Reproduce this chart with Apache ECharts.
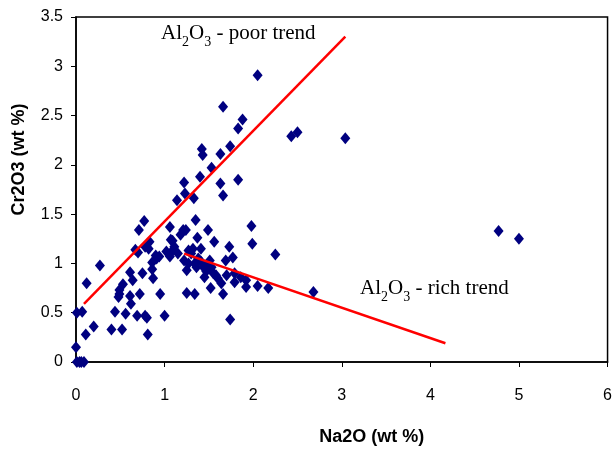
<!DOCTYPE html>
<html>
<head>
<meta charset="utf-8">
<script src="https://cdn.jsdelivr.net/npm/echarts@6/dist/echarts.min.js"></script>
<style>
  html, body { margin: 0; padding: 0; background: #fff; }
  #chart { width: 615px; height: 451px; }
</style>
</head>
<body>
<div id="chart"></div>
<script>
// Na2O (x) and Cr2O3 (y) values, wt %
const na2o = [
  2.05, 1.66, 1.88, 1.83, 2.43, 2.50, 3.04, 1.74, 1.42, 1.43, 1.63, 1.53, 1.40, 1.83, 1.63, 1.66,
  1.22, 1.23, 1.33, 1.14, 1.35, 1.98, 0.77, 0.71, 1.06, 1.21, 1.24, 1.49, 1.18, 1.37, 1.56, 1.07,
  1.09, 1.99, 0.83, 0.78, 0.82, 0.67, 0.70, 1.11, 1.27, 1.32, 1.41, 1.73, 2.25, 1.77, 1.69, 0.94,
  0.91, 1.06, 1.09, 0.27, 0.86, 1.22, 1.27, 1.36, 1.41, 1.44, 1.51, 1.53, 1.25, 1.34, 1.45, 1.55,
  1.60, 1.64, 0.86, 0.61, 0.75, 0.87, 0.64, 1.79, 1.79, 1.86, 1.92, 1.92, 2.05, 2.17, 2.68, 1.52,
  1.66, 1.25, 1.34, 0.12, 0.53, 0.49, 0.48, 0.49, 0.72, 0.95, 0.61, 0.62, 0.44, 0.56, 0.69, 0.78,
  0.80, 1.00, 1.74, 0.01, 0.07, 0.20, 0.40, 0.52, 0.11, 0.81, 0.00, 0.01, 0.06, 0.09, 0.04, 4.77,
  5.00, 1.30, 1.15, 0.90, 1.02, 1.48, 1.58, 1.70, 1.38, 1.47
];
const cr2o3 = [
  2.91, 2.59, 2.46, 2.37, 2.29, 2.33, 2.27, 2.19, 2.16, 2.10, 2.11, 1.97, 1.88, 1.85, 1.81, 1.69,
  1.82, 1.71, 1.66, 1.64, 1.44, 1.38, 1.43, 1.34, 1.37, 1.34, 1.34, 1.34, 1.29, 1.26, 1.22, 1.24,
  1.23, 1.20, 1.22, 1.17, 1.15, 1.14, 1.11, 1.17, 1.13, 1.15, 1.15, 1.17, 1.09, 1.06, 1.03, 1.07,
  1.05, 1.07, 1.13, 0.98, 1.01, 1.03, 1.00, 0.96, 1.02, 0.96, 1.03, 0.96, 0.93, 1.00, 0.86, 0.90,
  0.85, 0.80, 0.94, 0.91, 0.90, 0.85, 0.83, 0.90, 0.81, 0.86, 0.83, 0.76, 0.77, 0.75, 0.71, 0.75,
  0.69, 0.70, 0.69, 0.80, 0.79, 0.73, 0.66, 0.69, 0.69, 0.69, 0.67, 0.59, 0.51, 0.49, 0.47, 0.47,
  0.45, 0.47, 0.43, 0.50, 0.51, 0.36, 0.33, 0.33, 0.28, 0.28, 0.15, 0.00, 0.00, 0.00, 0.00, 1.33,
  1.25, 1.10, 1.10, 1.08, 1.12, 0.98, 0.88, 0.88, 1.05, 0.92
];

// trend lines: [x, y] end points
const poorTrend = [[0.09, 0.59], [3.04, 3.30]];
const richTrend = [[1.22, 1.10], [4.17, 0.19]];

const xTicks = { min: 0, max: 6, interval: 1 };
const yTicks = { min: 0, max: 3.5, interval: 0.5 };

const points = na2o.map((x, i) => [x, cr2o3[i]]);

const chart = echarts.init(document.getElementById('chart'));

const serif = '"Liberation Serif", "Times New Roman", serif';
const sans = '"Liberation Sans", Arial, sans-serif';
const trendLabel = (name) => ({
  text: '{n|Al}{s|2}{n|O}{s|3}{n| - ' + name + ' trend}',
  rich: {
    n: { fontFamily: serif, fontSize: 21, fill: '#000', verticalAlign: 'bottom', lineHeight: 26 },
    s: { fontFamily: serif, fontSize: 14, fill: '#000', verticalAlign: 'bottom', lineHeight: 19, padding: [0, 0, -5, 0] },
  },
});

chart.setOption({
  backgroundColor: '#fff',
  animation: false,
  grid: {
    left: 76,
    right: 6,
    top: 17,
    bottom: 88,
    show: true,
    borderColor: '#000',
    borderWidth: 1.5,
    backgroundColor: 'transparent',
  },
  xAxis: {
    type: 'value',
    min: xTicks.min,
    max: xTicks.max,
    interval: xTicks.interval,
    name: 'Na2O (wt %)',
    nameLocation: 'middle',
    nameGap: 66,
    nameTextStyle: {
      fontFamily: sans,
      fontSize: 18,
      fontWeight: 'bold',
      color: '#000',
      padding: [0, 0, 0, 60],
    },
    axisLine: { lineStyle: { color: '#000', width: 1.5 } },
    axisTick: { inside: false, length: 5, lineStyle: { color: '#000' } },
    axisLabel: { margin: 26, fontFamily: sans, fontSize: 16, color: '#000' },
    splitLine: { show: false },
  },
  yAxis: {
    type: 'value',
    min: yTicks.min,
    max: yTicks.max,
    interval: yTicks.interval,
    name: 'Cr2O3 (wt %)',
    nameLocation: 'middle',
    nameGap: 48,
    nameTextStyle: {
      fontFamily: sans,
      fontSize: 18,
      fontWeight: 'bold',
      color: '#000',
      padding: [0, 0, 0, 60],
    },
    axisLine: { lineStyle: { color: '#000', width: 1.5 } },
    axisTick: { inside: false, length: 5, lineStyle: { color: '#000' } },
    axisLabel: { margin: 13, fontFamily: sans, fontSize: 16, color: '#000' },
    splitLine: { show: false },
  },
  series: [
    {
      type: 'scatter',
      data: points,
      symbol: 'diamond',
      symbolSize: [10, 12],
      clip: false,
      itemStyle: { color: '#000080', opacity: 1 },
      z: 3,
    },
    {
      type: 'line',
      data: poorTrend,
      symbol: 'none',
      lineStyle: { color: '#ff0000', width: 2.5 },
      z: 4,
    },
    {
      type: 'line',
      data: richTrend,
      symbol: 'none',
      lineStyle: { color: '#ff0000', width: 2.5 },
      z: 4,
    },
  ],
  graphic: [
    { type: 'text', left: 161, top: 23, style: trendLabel('poor') },
    { type: 'text', left: 360, top: 278, style: trendLabel('rich') },
  ],
});
</script>
</body>
</html>
